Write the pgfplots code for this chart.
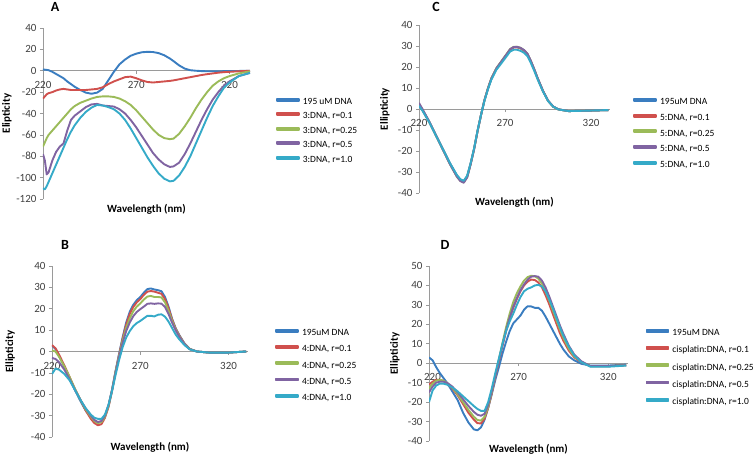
\documentclass[border=0pt]{standalone}
\usepackage{fontspec}
\setmainfont{Carlito}
\usepackage{pgfplots}
\usepackage{pgfplotstable}
\pgfplotsset{compat=1.18}

\definecolor{sblue}{HTML}{3A7DC0}
\definecolor{sred}{HTML}{D0504D}
\definecolor{olivegreen}{RGB}{155,187,89}
\definecolor{spurple}{HTML}{8064A2}
\definecolor{scyan}{HTML}{35AAC8}
\definecolor{axgray}{HTML}{9A9A9A}
\definecolor{txt}{HTML}{404040}

% panel A: 195 uM DNA and 3:DNA
\pgfplotstableread{
wl  b     r     g     p     c
220 1     -26   -71   -78   -110
221 1     -24   -67   -84   -111
222 0.8   -22   -63   -97   -108
223 0.5   -21   -60   -95   -104
225 -1    -20   -56   -84   -96
227 -3    -18.5 -52   -76   -88
229 -5    -17.5 -48   -71   -80
231 -7    -17   -44   -68   -72
233 -10   -17.5 -40   -56   -64
235 -12.5 -18   -36   -46   -57
237 -15   -18   -33   -42   -51
240 -18   -18   -30   -38   -44
243 -20.5 -18   -28   -34   -38.5
246 -21.5 -17.5 -26   -31.5 -34.5
249 -20.5 -17   -24.5 -31   -32
252 -17   -15.5 -24   -32.5 -32.5
255 -9    -12.5 -24   -33   -34
258 -1    -10   -24.5 -33.5 -36
261 6     -8    -26   -36   -40
264 10.5  -6    -28.5 -40   -46
267 14    -5.5  -32   -46   -54
270 16    -7    -37   -53   -63
273 17.3  -9    -43   -61   -72
276 17.7  -10.5 -49   -69   -81
279 17.5  -11   -55   -77   -89
282 16.5  -10.5 -60   -83   -96
285 14.5  -10   -63   -87.5 -101
288 11.5  -9.5  -64   -90   -103.5
290 9     -9    -63.5 -89.5 -103
293 5     -8    -59   -86   -98
296 2     -7    -52   -78   -90
299 0.5   -6    -44   -68   -80
302 0     -5    -35   -57   -68
305 -0.3  -4    -27   -46   -56
308 -0.5  -3.2  -20   -36   -44
311 -0.5  -2.5  -14   -27   -33
314 -0.5  -1.8  -10   -20   -24
317 -0.4  -1.3  -7    -14   -16
320 -0.3  -1    -5    -10   -11
325 -0.2  -0.5  -2.5  -5    -5
331 0     0     -0.5  -2    -2
}\tabA

% panel C: 5:DNA
\pgfplotstableread{
wl  b     r     g     p     c
220 2.2   2.0   2.4   2.9   1.5
222 -0.4  -0.5  -0.3  0     -0.8
226 -6.2  -6.3  -6.2  -6    -6.4
230 -12.7 -12.8 -12.9 -12.8 -12.9
234 -19.3 -19.4 -19.6 -19.6 -19.3
238 -25.8 -26   -26.3 -26.3 -25.8
242 -31.6 -31.8 -32.2 -32.2 -31.4
244 -33.6 -33.8 -34.2 -34.3 -33.4
246 -34.5 -34.6 -35   -35.1 -34.2
248 -32   -32.2 -32.4 -32.6 -31.7
250 -26   -26.1 -26.3 -26.4 -25.8
252 -19   -19   -19.2 -19.3 -18.8
254 -10.5 -10.6 -10.7 -10.7 -10.4
256 -3    -3    -3    -3.1  -3
258 4     4     4.1   4.1   3.8
260 9.5   9.6   9.7   9.6   9.2
262 14.3  14.4  14.5  14.4  13.9
265 19.2  19.3  19.5  19.4  18.7
268 22.6  22.6  22.9  22.8  21.9
271 26    26    26.3  26.2  25.2
273 28.3  28.2  28.6  28.5  27.4
275 29.4  29.3  29.6  29.5  28.2
277 29.5  29.4  29.6  29.6  28.2
279 29    28.9  29.1  29.1  27.7
281 27.9  27.8  28    28.1  26.8
283 26.2  26.1  26.3  26.4  25.2
285 22.8  22.7  22.8  22.9  21.9
287 18.8  18.7  18.8  18.9  18.1
289 14.5  14.4  14.5  14.6  14
292 8.7   8.6   8.7   8.8   8.4
295 3.9   3.9   3.9   4     3.8
298 1.1   1.1   1.1   1.2   1.1
301 -0.2  -0.2  -0.2  -0.1  -0.2
307 -1    -1    -1    -1    -1
317 -0.8  -0.8  -0.8  -0.8  -0.8
330 -0.5  -0.5  -0.5  -0.5  -0.5
}\tabC

% panel B: 4:DNA
\pgfplotstableread{
wl  b     r     g     p     c
220 2.7   3     0.5   -3    -10.5
222 1.2   1.5   0     -3.5  -8
224 -2    -1.5  -2.5  -5    -8.5
227 -7    -6.5  -7    -8.5  -10.5
230 -12.5 -12   -12   -13   -13.5
233 -18   -17.5 -17.5 -18   -18
236 -23   -22.5 -22.5 -22.5 -22.5
239 -27.5 -27.5 -27   -26.5 -26.5
242 -31   -31.5 -30.5 -30   -29.5
244 -32.6 -33.5 -32.5 -32   -31
246 -33.3 -34.5 -33.5 -33   -31.5
248 -32.8 -34   -33   -32.5 -31.5
250 -30   -31   -30.5 -30   -29.5
252 -25.5 -26   -25.5 -25   -25
254 -18   -18.5 -18   -18   -18.5
256 -9    -9.5  -9.5  -10   -11
258 -1    -1.5  -2    -2.5  -4
260 6.6   6     5     4     2
262 13.5  12.5  11    9.5   6.5
264 18.5  17.5  15.5  13.5  9.5
266 21.8  20.8  18.8  16.5  11.8
268 24    23    21    18.5  13.3
270 25.5  24.5  22.5  19.8  14.3
272 27.5  26.5  24.3  21    15.5
274 29.2  28    25.7  22.3  16.7
276 29.5  28.3  26    22.5  16.7
278 29    28    25.5  22.3  16.4
280 28.7  27.5  25.5  22.5  17.2
282 28.2  27    25.3  22.4  17.4
284 25.5  24.5  23    20.8  16.3
286 21    20.3  19    17.5  14
288 15.3  15    14.3  13.5  11
290 11    10.8  10.4  10    8
292 7.8   7.6   7.3   7     5.8
295 3.8   3.7   3.6   3.5   3
298 1.2   1.2   1.2   1.1   1
302 0     0     0     0     0
309 -0.5  -0.5  -0.5  -0.5  -0.5
320 -0.5  -0.5  -0.5  -0.5  -0.5
330 0     0     0     0     0
}\tabB

% panel D: cisplatin:DNA
\pgfplotstableread{
wl  b     r     g     p     c
220 3     -11   -13   -15   -20
222 1.5   -9.5  -10.5 -12   -14
224 -2    -8.5  -9    -10   -11.5
226 -5    -8.5  -8.5  -9.5  -10.5
228 -7.5  -9    -9    -9.5  -10.5
230 -10   -10.5 -10   -10   -11
233 -14.5 -13   -12.5 -12   -12.5
236 -19   -16.5 -16   -15   -14.5
239 -25.5 -21   -20   -18.5 -17
242 -30.5 -25.5 -24   -22   -19.5
245 -34   -29   -27.5 -25   -22
247 -34.5 -30.8 -29.2 -26.5 -23.5
249 -33   -31   -29.5 -27   -24.5
251 -29   -28.5 -27.5 -26   -24.5
253 -23   -23   -22.5 -21.5 -20
255 -16   -15.5 -15   -14.5 -13
257 -8.5  -7    -6.5  -6.5  -5
259 -2    1     2     1.5   2.5
261 5     9     10.5  9.5   10
263 11    16.5  18.5  17    16.5
265 16.5  23    25.5  23.5  21.5
267 20.5  28.5  31.5  29    25.5
269 22.5  33    36    33.5  30
271 24.5  37    39.5  37.5  34
273 27.5  40    42.5  40.5  37
275 29.3  42    44.3  43    38.3
277 29.2  43    45    44.5  39
279 28.5  42.8  44.7  44.8  40
281 28.5  41.5  43.5  44.5  40.3
283 27    39    41    42.5  39.5
285 24    35    37    39    37
287 20.5  30.5  32.5  34.5  33
289 17    25.5  27.5  29.5  28.5
291 13.5  20.5  22.5  24.5  23.5
293 10    15.5  17.5  19.5  18.5
295 7     11.5  13    15    14
298 3.5   6.5   7.5   9     8.5
301 1.5   3     3.5   4.5   4
305 -0.3  0.5   0.7   1     0.5
310 -1.2  -1.5  -1.5  -1.5  -1.8
320 -1.2  -1.5  -1.5  -1.5  -1.8
330 -0.7  -1    -1    -1    -1.2
}\tabD

\pgfplotsset{
  cdpanel/.style={
    scale only axis,
    xmin=220, xmax=331,
    axis x line=middle, axis y line=left,
    axis line style={-, draw=axgray, line width=0.7pt},
    xtick={220,270,320},
    hide obscured x ticks=false, hide obscured y ticks=false,
    xtick style={draw=axgray, line width=0.6pt},
    ytick style={draw=axgray, line width=0.6pt},
    tick align=outside, major tick length=3pt,
    tick label style={font=\fontsize{11}{12}\selectfont, text=txt},
    xticklabel style={yshift=-4pt},
    /pgf/number format/assume math mode=true,
    label style={font=\bfseries\fontsize{11}{12}\selectfont},
    title style={font=\bfseries\fontsize{14}{16}\selectfont, anchor=center, yshift=-6pt},
    xlabel={Wavelength (nm)},
    legend style={draw=none, fill=none, anchor=west,
      font=\fontsize{9.5}{11}\selectfont, column sep=3pt,
      nodes={inner sep=0pt, text height=7pt, text depth=2pt}},
    legend cell align=left,
    legend image code/.code={\fill[##1] (0pt,1.2pt) rectangle (22pt,3.2pt);},
    every axis plot/.append style={line width=1.9pt, no marks, line join=round},
  },
  s1/.style={color=sblue},
  s2/.style={color=sred},
  s3/.style={color=olivegreen},
  s4/.style={color=spurple},
  s5/.style={color=scyan},
}

\begin{document}
\begin{tikzpicture}
\useasboundingbox (0pt,0pt) rectangle (756pt,456pt);

% A
\begin{axis}[cdpanel, at={(43pt,257pt)}, anchor=south west,
  width=207pt, height=171pt, ymin=-120, ymax=40, ytick={-120,-100,...,40},
  ylabel={Elipticity},
  ylabel style={at={(axis description cs:-0.174,0.5)}, anchor=center},
  xlabel style={at={(axis description cs:0.5,-0.058)}, anchor=center},
  title={A}, title style={at={(axis description cs:0.058,1.123)}},
  legend style={at={(axis description cs:1.11,0.398)}, row sep=5.5pt}]
\addplot[s1] table[x=wl,y=b] {\tabA}; \addlegendentry{195 uM DNA}
\addplot[s2] table[x=wl,y=r] {\tabA}; \addlegendentry{3:DNA, r=0.1}
\addplot[s3] table[x=wl,y=g] {\tabA}; \addlegendentry{3:DNA, r=0.25}
\addplot[s4] table[x=wl,y=p] {\tabA}; \addlegendentry{3:DNA, r=0.5}
\addplot[s5] table[x=wl,y=c] {\tabA}; \addlegendentry{3:DNA, r=1.0}
\end{axis}

% C
\begin{axis}[cdpanel, at={(419pt,263pt)}, anchor=south west,
  width=191pt, height=168pt, ymin=-40, ymax=40, ytick={-40,-30,...,40},
  ylabel={Ellipticity},
  ylabel style={at={(axis description cs:-0.179,0.5)}, anchor=center},
  xlabel style={at={(axis description cs:0.5,-0.054)}, anchor=center},
  title={C}, title style={at={(axis description cs:0.089,1.107)}},
  legend style={at={(axis description cs:1.105,0.354)}, row sep=6.7pt}]
\addplot[s1] table[x=wl,y=b] {\tabC}; \addlegendentry{195uM DNA}
\addplot[s2] table[x=wl,y=r] {\tabC}; \addlegendentry{5:DNA, r=0.1}
\addplot[s3] table[x=wl,y=g] {\tabC}; \addlegendentry{5:DNA, r=0.25}
\addplot[s4] table[x=wl,y=p] {\tabC}; \addlegendentry{5:DNA, r=0.5}
\addplot[s5] table[x=wl,y=c] {\tabC}; \addlegendentry{5:DNA, r=1.0}
\end{axis}

% B
\begin{axis}[cdpanel, at={(52pt,19pt)}, anchor=south west,
  width=196pt, height=171pt, ymin=-40, ymax=40, ytick={-40,-30,...,40},
  ylabel={Ellipticity},
  ylabel style={at={(axis description cs:-0.214,0.5)}, anchor=center},
  xlabel style={at={(axis description cs:0.5,-0.058)}, anchor=center},
  title={B}, title style={at={(axis description cs:0.066,1.123)}},
  legend style={at={(axis description cs:1.122,0.418)}, row sep=7.2pt}]
\addplot[s1] table[x=wl,y=b] {\tabB}; \addlegendentry{195uM DNA}
\addplot[s2] table[x=wl,y=r] {\tabB}; \addlegendentry{4:DNA, r=0.1}
\addplot[s3] table[x=wl,y=g] {\tabB}; \addlegendentry{4:DNA, r=0.25}
\addplot[s4] table[x=wl,y=p] {\tabB}; \addlegendentry{4:DNA, r=0.5}
\addplot[s5] table[x=wl,y=c] {\tabB}; \addlegendentry{4:DNA, r=1.0}
\end{axis}

% D
\begin{axis}[cdpanel, at={(429pt,15pt)}, anchor=south west,
  width=199pt, height=175pt, ymin=-40, ymax=50, ytick={-40,-30,...,50},
  xticklabels={\hspace*{7pt}220, 270, 320},
  ylabel={Ellipticity},
  ylabel style={at={(axis description cs:-0.171,0.5)}, anchor=center},
  xlabel style={at={(axis description cs:0.5,-0.046)}, anchor=center},
  title={D}, title style={at={(axis description cs:0.08,1.12)}},
  legend style={at={(axis description cs:1.072,0.42)}, row sep=8.2pt}]
\addplot[s1] table[x=wl,y=b] {\tabD}; \addlegendentry{195uM DNA}
\addplot[s2] table[x=wl,y=r] {\tabD}; \addlegendentry{cisplatin:DNA, r=0.1}
\addplot[s3] table[x=wl,y=g] {\tabD}; \addlegendentry{cisplatin:DNA, r=0.25}
\addplot[s4] table[x=wl,y=p] {\tabD}; \addlegendentry{cisplatin:DNA, r=0.5}
\addplot[s5] table[x=wl,y=c] {\tabD}; \addlegendentry{cisplatin:DNA, r=1.0}
\end{axis}
\end{tikzpicture}
\end{document}
